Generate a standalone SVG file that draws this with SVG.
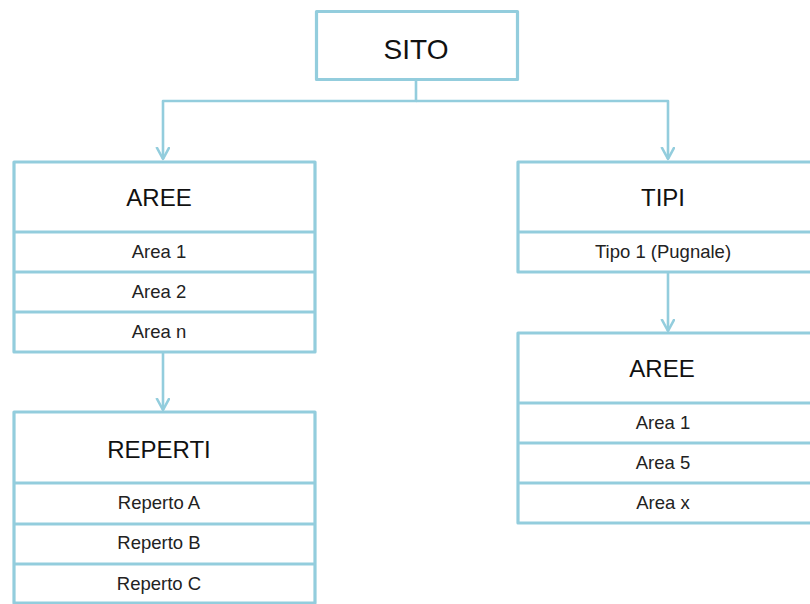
<svg xmlns="http://www.w3.org/2000/svg" width="810" height="604" viewBox="0 0 810 604">
<style>
.box{fill:#ffffff;stroke:#93CDDD;stroke-width:3.2;stroke-linejoin:round}
.sep{stroke:#93CDDD;stroke-width:3.2}
.con{fill:none;stroke:#93CDDD;stroke-width:2.6;stroke-linejoin:round}
.title{font-family:"Liberation Sans",Arial,sans-serif;font-size:24px;fill:#111;text-anchor:middle}
.big{font-size:28px}
.row{font-family:"Liberation Sans",Arial,sans-serif;font-size:18.5px;fill:#222;text-anchor:middle}
</style>
<defs>
<marker id="arr" markerUnits="userSpaceOnUse" markerWidth="20" markerHeight="20" refX="12" refY="7" orient="auto">
<path d="M0,0.5 L12,7 L0,13.5" fill="none" stroke="#93CDDD" stroke-width="2.6" stroke-linejoin="round"/>
</marker>
</defs>
<rect width="810" height="604" fill="#ffffff"/>
<g id="connectors">
<path class="con" d="M416,81 V101 H163 V159" marker-end="url(#arr)"/>
<path class="con" d="M416,101 H668 V159" marker-end="url(#arr)"/>
<path class="con" d="M163,353 V410" marker-end="url(#arr)"/>
<path class="con" d="M668,273 V331" marker-end="url(#arr)"/>
</g>
<g id="sito">
<rect class="box" x="316.5" y="11.5" width="201" height="68"/>
<text class="title big" x="416" y="59">SITO</text>
</g>
<g id="aree1">
<rect class="box" x="14" y="162" width="301" height="190"/>
<line class="sep" x1="14" y1="232" x2="315" y2="232"/>
<line class="sep" x1="14" y1="272" x2="315" y2="272"/>
<line class="sep" x1="14" y1="312" x2="315" y2="312"/>
<text class="title" x="159" y="206">AREE</text>
<text class="row" x="159" y="258">Area 1</text>
<text class="row" x="159" y="298">Area 2</text>
<text class="row" x="159" y="338">Area n</text>
</g>
<g id="reperti">
<rect class="box" x="14" y="412" width="301" height="191"/>
<line class="sep" x1="14" y1="483" x2="315" y2="483"/>
<line class="sep" x1="14" y1="524" x2="315" y2="524"/>
<line class="sep" x1="14" y1="564" x2="315" y2="564"/>
<text class="title" x="159" y="458">REPERTI</text>
<text class="row" x="159" y="509">Reperto A</text>
<text class="row" x="159" y="549">Reperto B</text>
<text class="row" x="159" y="590">Reperto C</text>
</g>
<g id="tipi">
<rect class="box" x="518" y="162" width="301" height="110"/>
<line class="sep" x1="518" y1="232" x2="819" y2="232"/>
<text class="title" x="663" y="206">TIPI</text>
<text class="row" x="663" y="258">Tipo 1 (Pugnale)</text>
</g>
<g id="aree2">
<rect class="box" x="518" y="333" width="301" height="190"/>
<line class="sep" x1="518" y1="403" x2="819" y2="403"/>
<line class="sep" x1="518" y1="443" x2="819" y2="443"/>
<line class="sep" x1="518" y1="483" x2="819" y2="483"/>
<text class="title" x="662" y="377">AREE</text>
<text class="row" x="663" y="429">Area 1</text>
<text class="row" x="663" y="469">Area 5</text>
<text class="row" x="663" y="509">Area x</text>
</g>
</svg>
